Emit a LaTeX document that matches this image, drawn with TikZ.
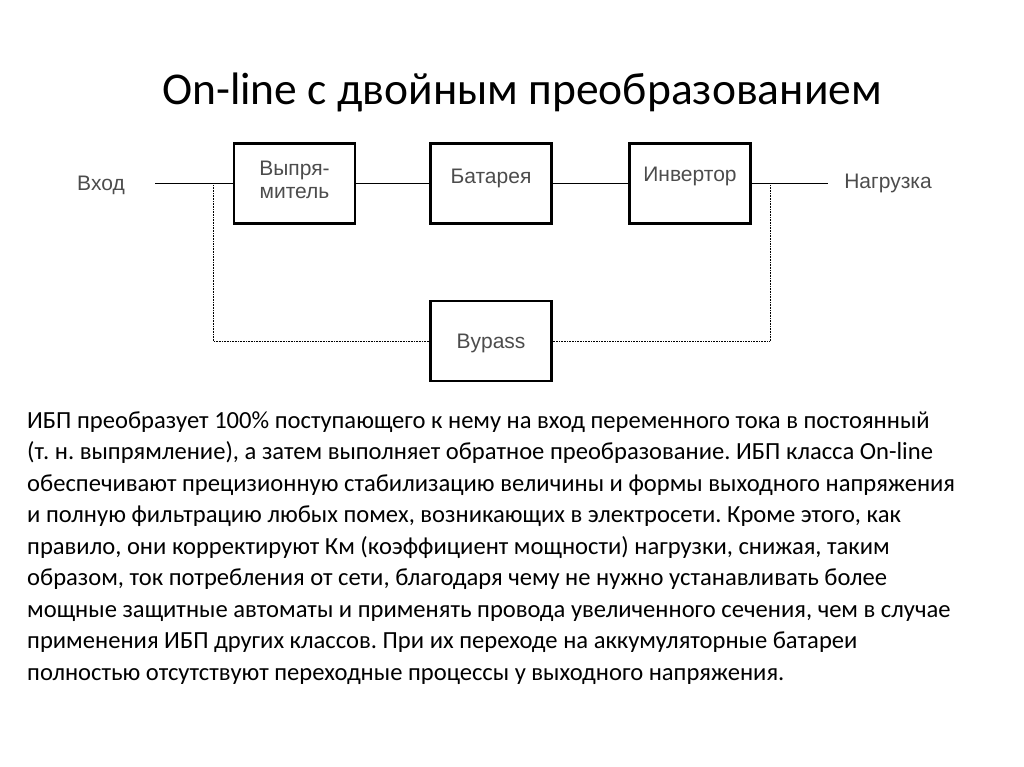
\documentclass[tikz,border=0pt]{standalone}
\usepackage{fontspec}
\setmainfont{Carlito}
\newfontfamily\diag{Liberation Sans}
\frenchspacing
\begin{document}
\begin{tikzpicture}[x=1pt,y=-1pt,
  blk/.style={draw,line width=2.2pt,minimum width=121pt,minimum height=80pt,inner sep=0pt},
  lbl/.style={font=\diag\fontsize{21}{23}\selectfont,text=black!70},
  wire/.style={line width=0.7pt},
  byp/.style={line width=0.6pt,densely dotted},
  body/.style={anchor=base west,inner sep=0pt,font=\fontsize{24.6}{27}\selectfont}]
\useasboundingbox (0,0) rectangle (1024,767);
\node (title) at (522,92) {\fontsize{45.5}{50}\selectfont On-line с двойным преобразованием};
\node[blk] (rect) at (294.5,183.5) {};
\node[lbl,align=center] at (294.5,180) {Выпря-\\митель};
\node[blk] (bat) at (491,183.5) {};
\node[lbl] at (491,178) {Батарея};
\node[blk] (inv) at (690,183.5) {};
\node[lbl] at (690,176) {Инвертор};
\node[blk] (bp) at (491,341) {};
\node[lbl] at (491,343) {Bypass};
\node[lbl] (in) at (101,185) {Вход};
\node[lbl] (out) at (888,183) {Нагрузка};
\coordinate (a) at (155,183.5);
\coordinate (b) at (828,183.5);
\coordinate (j1) at (213,183.5);
\coordinate (j2) at (770,183.5);
\draw[wire] (a) -- (rect.west);
\draw[wire] (rect.east) -- (bat.west);
\draw[wire] (bat.east) -- (inv.west);
\draw[wire] (inv.east) -- (b);
\draw[byp] (j1) |- (bp.west);
\draw[byp] (j2) |- (bp.east);
\node[body] (t1) at (27,428) {ИБП преобразует 100\% поступающего к нему на вход переменного тока в постоянный};
\node[body] (t2) at (27,459.5) {(т. н. выпрямление), а затем выполняет обратное преобразование. ИБП класса On-line};
\node[body] (t3) at (27,491) {обеспечивают прецизионную стабилизацию величины и формы выходного напряжения};
\node[body] (t4) at (27,522.5) {и полную фильтрацию любых помех, возникающих в электросети. Кроме этого, как};
\node[body] (t5) at (27,554) {правило, они корректируют Км (коэффициент мощности) нагрузки, снижая, таким};
\node[body] (t6) at (27,585.5) {образом, ток потребления от сети, благодаря чему не нужно устанавливать более};
\node[body] (t7) at (27,617) {мощные защитные автоматы и применять провода увеличенного сечения, чем в случае};
\node[body] (t8) at (27,648.5) {применения ИБП других классов. При их переходе на аккумуляторные батареи};
\node[body] (t9) at (27,680) {полностью отсутствуют переходные процессы у выходного напряжения.};
\end{tikzpicture}
\end{document}
